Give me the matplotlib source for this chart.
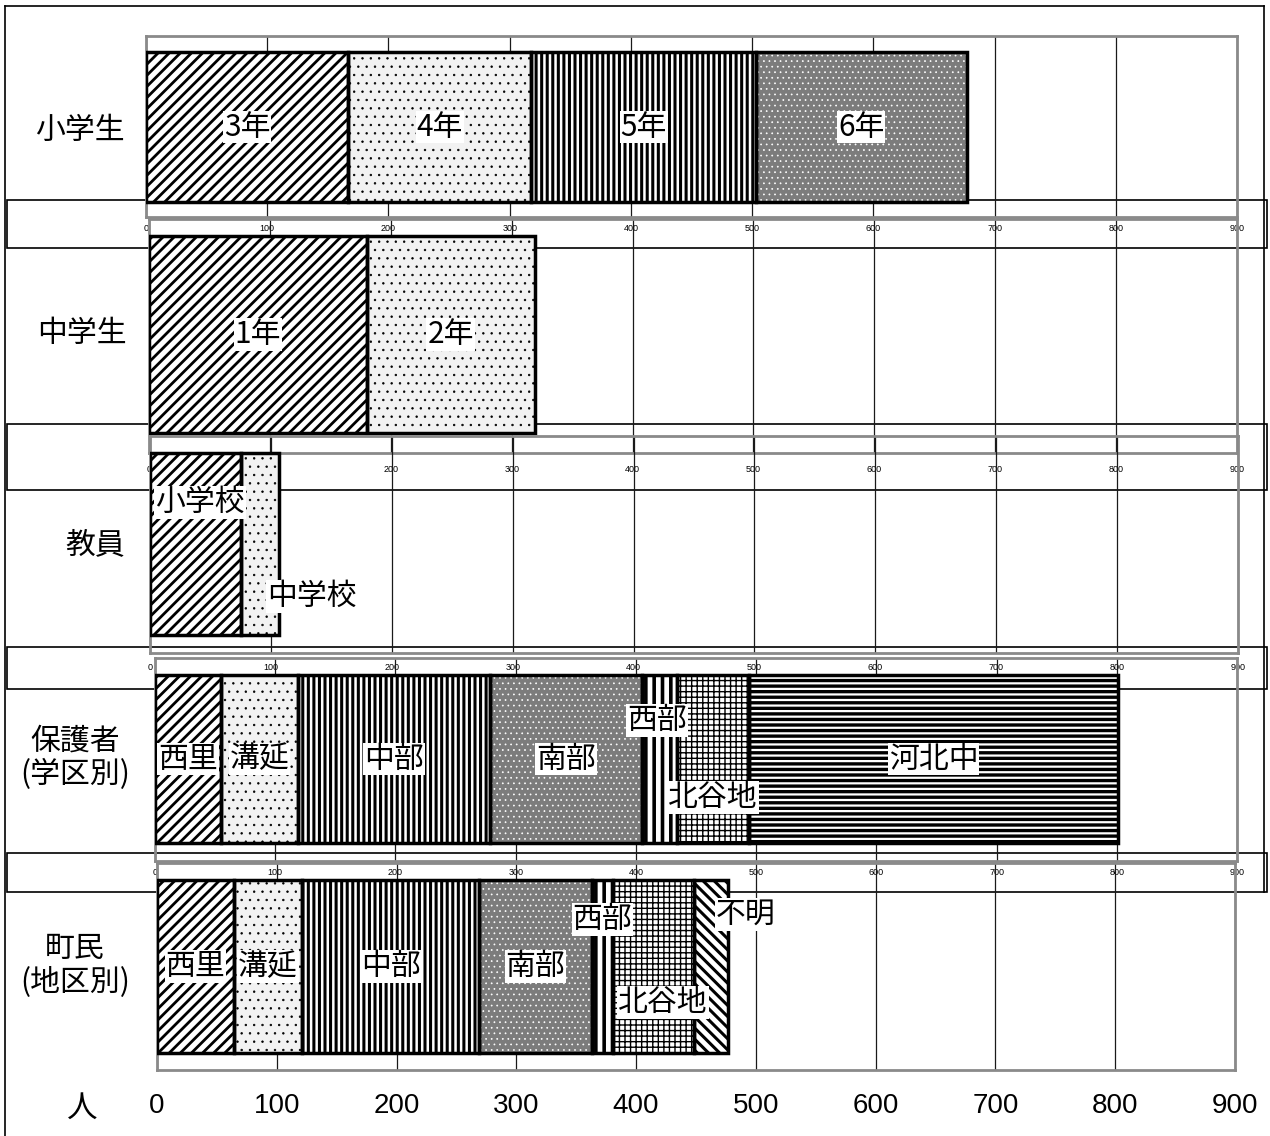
import numpy as np
import matplotlib.pyplot as plt
from matplotlib.patches import Rectangle
from matplotlib.lines import Line2D

plt.rcParams['font.family'] = ['Noto Sans CJK JP', 'DejaVu Sans']

W, H = 1270, 1136

# data (people)
el_labels = ['3年', '4年', '5年', '6年']
el_vals = [167, 151, 185, 174]
jh_labels = ['1年', '2年']
jh_vals = [180, 139]
te_labels = ['小学校', '中学校']
te_vals = [75, 32]
pa_labels = ['西里', '溝延', '中部', '南部', '西部', '北谷地', '河北中']
pa_vals = [55, 64, 160, 126, 29, 60, 307]
to_labels = ['西里', '溝延', '中部', '南部', '西部', '北谷地', '不明']
to_vals = [64, 57, 148, 94, 18, 67, 29]
groups = ['小学生', '中学生', '教員', '保護者\n(学区別)', '町民\n(地区別)']
ticks = list(range(0, 1000, 100))

# fill styles: face, hatch, hatch colour, hatch width
styles = {
    'diag': ('white', '///', 'black', 2.0),
    'dots': ('#f2f2f2', '..', 'black', 0.5),
    'vert': ('white', '|||', 'black', 2.2),
    'vert2': ('white', '||', 'black', 2.6),
    'dark': ('#7c7c7c', '...', 'white', 0.5),
    'grid': ('white', '+++', 'black', 1.0),
    'horiz': ('white', '---', 'black', 2.4),
    'back': ('white', '\\\\\\', 'black', 2.2),
}

# panel layout in pixels: x0, x900, frame top, bar top, bar bottom, frame bottom
panels = [
    dict(lab=el_labels, val=el_vals, sty=['diag', 'dots', 'vert', 'dark'],
         box=(146, 1237, 36, 52, 202, 217), pad=5.0, small=True),
    dict(lab=jh_labels, val=jh_vals, sty=['diag', 'dots'],
         box=(149, 1237, 219, 236, 433, 453), pad=8.6, small=True),
    dict(lab=te_labels, val=te_vals, sty=['diag', 'dots'],
         box=(150, 1238, 436, 453, 635, 653), pad=7.2, small=True),
    dict(lab=pa_labels, val=pa_vals,
         sty=['diag', 'dots', 'vert', 'dark', 'vert2', 'grid', 'horiz'],
         box=(155, 1237, 658, 675, 843, 861), pad=5.0, small=True),
    dict(lab=to_labels, val=to_vals,
         sty=['diag', 'dots', 'vert', 'dark', 'vert2', 'grid', 'back'],
         box=(157, 1235, 863, 880, 1053, 1070), pad=16.5, small=False),
]

# label offsets (value units, bar fraction) for labels not at segment centre
offsets = {
    (2, '小学校'): (4, 0.73), (2, '中学校'): (43, 0.21),
    (3, '西部'): (-2, 0.73), (3, '北谷地'): (0, 0.27),
    (4, '西部'): (0, 0.77), (4, '北谷地'): (8, 0.29), (4, '不明'): (29, 0.80),
}
group_pos = [(80, 130), (82, 333), (95, 545), (75, 758), (75, 965)]

fig = plt.figure(figsize=(W / 100, H / 100), dpi=100)


def fx(x):
    return x / W


def fy(y):
    return 1 - y / H


# pasted frames under everything
frame_kw = dict(color='black', lw=1.2, transform=fig.transFigure, zorder=-2)
fig.add_artist(Line2D([fx(5), fx(5)], [fy(6), fy(1136)], **frame_kw))
fig.add_artist(Line2D([fx(5), fx(1264)], [fy(6), fy(6)], **frame_kw))
fig.add_artist(Line2D([fx(1264), fx(1264)], [fy(6), fy(892)], **frame_kw))
for top, bot in [(200, 248), (424, 490), (647, 689), (853, 892)]:
    fig.add_artist(Rectangle((fx(7), fy(bot)), fx(1267) - fx(7), fy(top) - fy(bot),
                             fill=False, ec='black', lw=1.2,
                             transform=fig.transFigure, zorder=-1))

for i, p in enumerate(panels):
    x0, x9, ft, bt, bb, fb = p['box']
    hbar = bb - bt
    pt = (bt - ft) / hbar
    pb = (fb - bb) / hbar
    ax = fig.add_axes([fx(x0), fy(fb), fx(x9) - fx(x0), fy(ft) - fy(fb)])
    ax.set_facecolor('none')
    ax.set_xlim(0, 900)
    ax.set_ylim(-pb, 1 + pt)
    ax.set_yticks([])
    ax.set_xticks(ticks)
    ax.grid(axis='x', color='#1a1a1a', lw=0.9)
    ax.set_axisbelow(True)
    for s in ax.spines.values():
        s.set_color('#8a8a8a')
        s.set_linewidth(2)
    if p['small']:
        ax.tick_params(axis='x', length=0, pad=p['pad'], labelsize=6.5)
        for t in ax.get_xticklabels():
            t.set_family(['Liberation Sans Narrow', 'Liberation Sans'])
    else:
        ax.tick_params(axis='x', length=0, pad=p['pad'], labelsize=20)
        for t in ax.get_xticklabels():
            t.set_family('Liberation Sans')

    left = np.concatenate([[0], np.cumsum(p['val'])[:-1]])
    for lab, v, l, sk in zip(p['lab'], p['val'], left, p['sty']):
        face, hatch, hcol, hlw = styles[sk]
        with plt.rc_context({'hatch.linewidth': hlw}):
            b = ax.barh(0.5, v, left=l, height=1, color=face, edgecolor=hcol,
                        linewidth=0, hatch=hatch, zorder=2)
        for r in b:
            if hasattr(r, 'set_hatch_linewidth'):
                r.set_hatch_linewidth(hlw)
        ax.barh(0.5, v, left=l, height=1, fill=False, edgecolor='black',
                linewidth=2.5, zorder=3)
        dx, yy = offsets.get((i, lab), (0, 0.5))
        ax.text(l + v / 2 + dx, yy, lab, ha='center', va='center', fontsize=21.5,
                zorder=5, bbox=dict(boxstyle='square,pad=0.03', fc='white', ec='none'))

for g, (x, y) in zip(groups, group_pos):
    fig.text(fx(x), fy(y), g, ha='center', va='center', fontsize=21.5,
             linespacing=1.1)
fig.text(fx(82), fy(1108), '人', ha='center', va='center', fontsize=22)

fig.savefig('out.png', dpi=100)
